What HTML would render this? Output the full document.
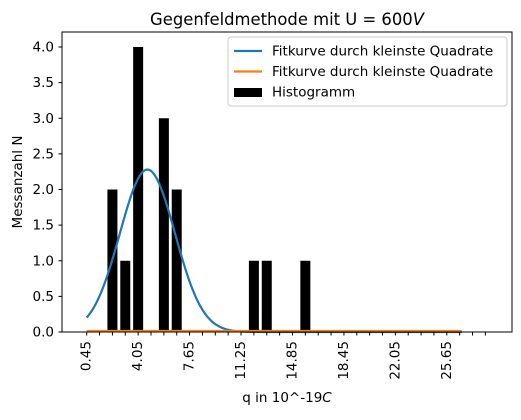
<!DOCTYPE html>
<html><head><meta charset="utf-8"><style>
body{margin:0;background:#fff;font-family:"Liberation Sans","DejaVu Sans",sans-serif;}
</style></head><body>
<svg width="521" height="415" xmlns="http://www.w3.org/2000/svg" font-family="'DejaVu Sans','Liberation Sans',sans-serif">
<g id="plot"></g>
</svg>
<script>
const binCenters=[2.25,3.15,4.05,5.85,6.75,12.15,13.05,15.75];
const counts=[2,1,4,3,2,1,1,1];
const yTicks=[0,0.5,1,1.5,2,2.5,3,3.5,4];
const xTickLabels=[0.45,4.05,7.65,11.25,14.85,18.45,22.05,25.65];
const fitMu=4.7, fitSigma=1.93, fitAmp=2.28;
const fitRange=[0.45,26.7];

const NS="http://www.w3.org/2000/svg";
const g=document.getElementById('plot');
const L=62,R=512,T=32,B=332;
const sx=v=>86.7+(v-0.45)*14.29;
const sy=v=>B-v*71.25;
function el(t,a){const e=document.createElementNS(NS,t);for(const k in a)e.setAttribute(k,a[k]);g.appendChild(e);return e;}

binCenters.forEach((c,i)=>{
 const r=el('rect',{x:sx(c-0.35),y:sy(counts[i]),width:0.7*14.29,height:sy(0)-sy(counts[i]),fill:'#000'});
 
 
});
let d='';
for(let i=0;i<=300;i++){const x=fitRange[0]+(fitRange[1]-fitRange[0])*i/300;const y=fitAmp*Math.exp(-((x-fitMu)**2)/(2*fitSigma*fitSigma));d+=(i?'L':'M')+sx(x).toFixed(2)+','+sy(y).toFixed(2);}
const fit=el('path',{d:d,fill:'none',stroke:'#1f77b4','stroke-width':2.2});


const fl=el('line',{x1:sx(fitRange[0]),x2:sx(fitRange[1]),y1:sy(0)-1,y2:sy(0)-1,stroke:'#ff7f0e','stroke-width':2.2});



const ax=el('rect',{x:L,y:T,width:R-L,height:B-T,fill:'none',stroke:'#000','stroke-width':1});



yTicks.forEach(v=>{
 el('line',{x1:L-3.5,x2:L,y1:sy(v),y2:sy(v),stroke:'#000'});
 const t=el('text',{x:L-8,y:sy(v)+4.5,'text-anchor':'end','font-size':13.5});t.textContent=v.toFixed(1);
 
 
});
for(let k=0;k<=31;k++){const v=0.45+0.9*k;el('line',{x1:sx(v),x2:sx(v),y1:B,y2:B+3.5,stroke:'#000'});}
xTickLabels.forEach(v=>{
 const x=sx(v),y=B+9;
 const t=el('text',{x:x,y:y,transform:`rotate(-90 ${x} ${y})`,'text-anchor':'end','dominant-baseline':'central','font-size':13.5});t.textContent=v.toFixed(2);
 
 
});
const xt=el('text',{x:(L+R)/2,y:402,'text-anchor':'middle','font-size':13.5});xt.innerHTML='q in 10^-19<tspan font-style="italic">C</tspan>';


const yt=el('text',{x:22,y:(T+B)/2,transform:`rotate(-90 22 ${(T+B)/2})`,'text-anchor':'middle','font-size':13.5});yt.textContent='Messanzahl N';


const ti=el('text',{x:(L+R)/2,y:25,'text-anchor':'middle','font-size':16.4});ti.innerHTML='Gegenfeldmethode mit U = 600<tspan font-style="italic">V</tspan>';



const lg=el('rect',{x:228,y:37,width:279,height:69,rx:3,fill:'#fff','fill-opacity':0.8,stroke:'#ccc'});


const entries=[['Fitkurve durch kleinste Quadrate','#1f77b4','line'],['Fitkurve durch kleinste Quadrate','#ff7f0e','line'],['Histogramm','#000','rect']];
entries.forEach((e,i)=>{
 const y=51+i*20.5;
 if(e[2]==='line')el('line',{x1:234,x2:262,y1:y,y2:y,stroke:e[1],'stroke-width':2.2});
 else el('rect',{x:234,y:y-4,width:28,height:9,fill:e[1]});
 const t=el('text',{x:272,y:y+4.5,'font-size':13.5});t.textContent=e[0];
 
 
});
</script>
</body></html>
